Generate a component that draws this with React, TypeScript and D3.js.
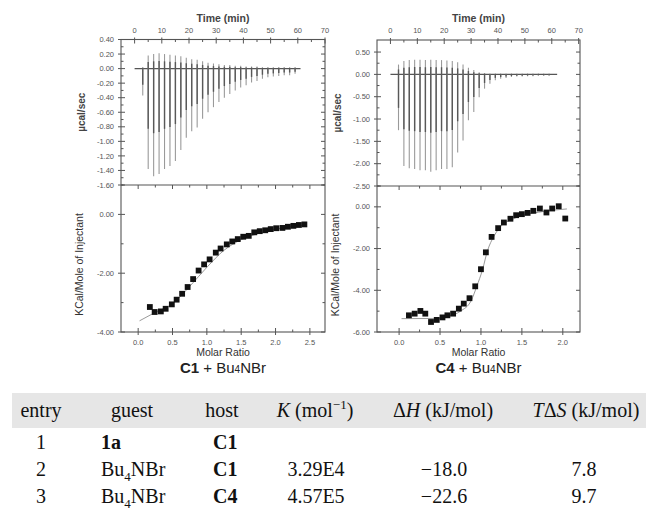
import React from 'react'
import * as d3 from 'd3'

// raw ITC trace: injection times (min)
const timeTicks = [0, 10, 20, 30, 40, 50, 60, 70]
const injectionTimes = [3, 5, 7, 9, 11, 13, 15, 17, 19, 21, 23, 25, 27, 29, 31, 33, 35, 37, 39, 41, 43, 45, 47, 49, 51, 53, 55, 57, 59]

// C1 + Bu4NBr raw peaks (ucal/sec)
const c1PeakMin = [-0.37, -1.38, -1.48, -1.45, -1.38, -1.34, -1.27, -1.12, -0.95, -0.86, -0.81, -0.69, -0.6, -0.53, -0.46, -0.4, -0.35, -0.3, -0.26, -0.23, -0.19, -0.17, -0.14, -0.12, -0.11, -0.1, -0.09, -0.09, -0.07]
const c1PeakTop = [0.02, 0.18, 0.2, 0.21, 0.2, 0.19, 0.18, 0.17, 0.15, 0.13, 0.12, 0.1, 0.08, 0.07, 0.06, 0.05, 0.05, 0.04, 0.04, 0.03, 0.03, 0.03, 0.02, 0.02, 0.02, 0.02, 0.02, 0.02, 0.02]
const c1RawTicks = [0.4, 0.2, 0, -0.2, -0.4, -0.6, -0.8, -1.0, -1.2, -1.4, -1.6]

// C4 + Bu4NBr raw peaks
const c4PeakMin = [-1.25, -2.05, -2.1, -2.12, -2.15, -2.15, -2.18, -2.15, -2.12, -2.12, -2.08, -1.75, -1.48, -1.03, -0.84, -0.51, -0.32, -0.21, -0.13, -0.1, -0.08, -0.06, -0.05, -0.05, -0.04, -0.04, -0.03, -0.03, -0.03]
const c4PeakTop = [0.22, 0.3, 0.32, 0.33, 0.33, 0.32, 0.33, 0.32, 0.32, 0.31, 0.3, 0.27, 0.22, 0.15, 0.1, 0.05, 0.03, 0.02, 0.02, 0.02, 0.02, 0.02, 0.02, 0.02, 0.02, 0.02, 0.02, 0.02, 0.02]
const c4RawTicks = [0.5, 0, -0.5, -1.0, -1.5, -2.0, -2.5]

// integrated heats (kcal/mol of injectant) vs molar ratio
const c1Ratio = [0.17, 0.24, 0.33, 0.4, 0.49, 0.56, 0.64, 0.72, 0.8, 0.88, 0.96, 1.04, 1.13, 1.2, 1.29, 1.37, 1.45, 1.53, 1.61, 1.69, 1.77, 1.85, 1.93, 2.01, 2.1, 2.18, 2.26, 2.34, 2.42]
const c1Heat = [-3.15, -3.32, -3.3, -3.21, -3.06, -2.9, -2.7, -2.47, -2.2, -1.91, -1.7, -1.53, -1.3, -1.16, -1.02, -0.92, -0.84, -0.76, -0.73, -0.61, -0.57, -0.54, -0.5, -0.47, -0.46, -0.42, -0.39, -0.36, -0.34]
const c1FitRatio = [0.02, 0.25, 0.5, 0.75, 1.0, 1.25, 1.5, 1.75, 2.0, 2.25, 2.45]
const c1FitHeat = [-3.62, -3.33, -3.04, -2.45, -1.8, -1.22, -0.86, -0.65, -0.5, -0.41, -0.36]
const c1RatioTicks = [0, 0.5, 1.0, 1.5, 2.0, 2.5]
const c1HeatTicks = [0, -2, -4]

const c4Ratio = [0.12, 0.19, 0.26, 0.32, 0.39, 0.46, 0.53, 0.59, 0.66, 0.73, 0.79, 0.86, 0.93, 1.0, 1.06, 1.13, 1.21, 1.28, 1.36, 1.43, 1.5, 1.57, 1.64, 1.72, 1.8, 1.87, 1.95, 2.03]
const c4Heat = [-5.2, -5.12, -4.99, -5.12, -5.52, -5.42, -5.3, -5.2, -5.12, -4.88, -4.64, -4.38, -3.81, -2.99, -2.18, -1.44, -1.02, -0.75, -0.57, -0.4, -0.35, -0.29, -0.19, -0.08, -0.27, -0.08, 0.03, -0.56]
const c4FitRatio = [0.03, 0.45, 0.6, 0.75, 0.88, 0.95, 1.02, 1.08, 1.16, 1.25, 1.38, 1.5, 1.7, 1.9, 2.05]
const c4FitHeat = [-5.36, -5.35, -5.25, -5.0, -4.5, -3.8, -3.0, -2.1, -1.4, -0.9, -0.6, -0.42, -0.26, -0.15, -0.1]
const c4RatioTicks = [0, 0.5, 1.0, 1.5, 2.0]
const c4HeatTicks = [0, -2, -4, -6]

// table
const tableEntries = ['1', '2', '3']
const tableGuests = ['1a', 'Bu4NBr', 'Bu4NBr']
const tableHosts = ['C1', 'C1', 'C4']
const tableK = ['', '3.29E4', '4.57E5']
const tableDH = ['', '\u221218.0', '\u221222.6']
const tableTDS = ['', '7.8', '9.7']

const fmt = d3.formatLocale({ decimal: '.', thousands: ',', grouping: [3], currency: ['', ''], minus: '-' })
const f2 = fmt.format('.2f')
const f1 = fmt.format('.1f')

const sans = '"Liberation Sans", Arial, sans-serif'
const serif = '"Liberation Serif", "Times New Roman", serif'
const axisColor = '#555'
const tickText = '#555'

const midpoints = (arr: number[]) => arr.slice(1).map((v, i) => (v + arr[i]) / 2)

function Panel(props: any) {
  const { x0, x1, yTop, yMid, yBot, timeDomain, rawDomain, rawTicks, peakMin, peakTop, baselineEnd,
    ratioDomain, ratioTicks, heatDomain, heatTicks, ratio, heat, fitRatio, fitHeat, host } = props

  const xt = d3.scaleLinear().domain(timeDomain).range([x0, x1])
  const yr = d3.scaleLinear().domain(rawDomain).range([yMid, yTop])
  const xm = d3.scaleLinear().domain(ratioDomain).range([x0, x1])
  const yh = d3.scaleLinear().domain(heatDomain).range([yBot, yMid])

  const fitLine = d3.line<number>()
    .x((d, i) => xm(fitRatio[i]))
    .y(d => yh(d))
    .curve(d3.curveMonotoneX)

  const timeMinor = midpoints(timeTicks)
  const rawMinor = midpoints(rawTicks)
  const ratioMinor = midpoints(ratioTicks)
  const heatMinor = midpoints(heatTicks).concat([heatTicks[0] + (heatTicks[0] - heatTicks[1]) / 2])
  const cx = (x0 + x1) / 2

  return (
    <g>
      {/* frames */}
      <rect x={x0} y={yTop} width={x1 - x0} height={yBot - yTop} fill='none' stroke={axisColor} strokeWidth={1.1} />
      <line x1={x0} x2={x1} y1={yMid} y2={yMid} stroke={axisColor} strokeWidth={1.1} />

      {/* top time axis */}
      {timeTicks.map(t => (
        <g key={'tt' + t}>
          <line x1={xt(t)} x2={xt(t)} y1={yTop - 2} y2={yTop + 4} stroke={axisColor} />
          <text x={xt(t)} y={33} textAnchor='middle' fontSize={7.5} fill={tickText} fontFamily={sans}>{t}</text>
        </g>
      ))}
      {timeMinor.map(t => <line key={'tm' + t} x1={xt(t)} x2={xt(t)} y1={yTop} y2={yTop + 2.5} stroke={axisColor} />)}
      <text x={cx} y={22} textAnchor='middle' fontSize={10.5} fontWeight='bold' fill='#444' fontFamily={sans}>Time (min)</text>

      {/* raw y axis */}
      {rawTicks.map(v => (
        <g key={'rt' + v}>
          <line x1={x0 - 3} x2={x0 + 4} y1={yr(v)} y2={yr(v)} stroke={axisColor} />
          <line x1={x1 - 4} x2={x1} y1={yr(v)} y2={yr(v)} stroke={axisColor} />
          <text x={x0 - 7} y={yr(v) + 2.6} textAnchor='end' fontSize={7.5} fill={tickText} fontFamily={sans}>{f2(v)}</text>
        </g>
      ))}
      {rawMinor.map(v => (
        <g key={'rm' + v}>
          <line x1={x0} x2={x0 + 2.5} y1={yr(v)} y2={yr(v)} stroke={axisColor} />
          <line x1={x1 - 2.5} x2={x1} y1={yr(v)} y2={yr(v)} stroke={axisColor} />
        </g>
      ))}
      <text transform={`translate(${x0 - 36},${(yTop + yMid) / 2}) rotate(-90)`} textAnchor='middle' fontSize={10} fontWeight='bold' fill='#444' fontFamily={sans}>µcal/sec</text>

      {/* raw trace */}
      <line x1={xt(0)} x2={xt(baselineEnd)} y1={yr(0)} y2={yr(0)} stroke='#555' strokeWidth={1.2} />
      {injectionTimes.map((t, i) => (
        <g key={'pk' + i}>
          <line x1={xt(t)} x2={xt(t)} y1={yr(peakTop[i])} y2={yr(peakMin[i])} stroke='#9a9a9a' strokeWidth={1.1} />
          <line x1={xt(t)} x2={xt(t)} y1={yr(peakTop[i] * 0.5)} y2={yr(peakMin[i] * 0.6)} stroke='#585858' strokeWidth={1.4} />
        </g>
      ))}

      {/* heat y axis */}
      {heatTicks.map(v => (
        <g key={'ht' + v}>
          <line x1={x0 - 3} x2={x0 + 4} y1={yh(v)} y2={yh(v)} stroke={axisColor} />
          <line x1={x1 - 4} x2={x1} y1={yh(v)} y2={yh(v)} stroke={axisColor} />
          <text x={x0 - 7} y={yh(v) + 2.6} textAnchor='end' fontSize={7.5} fill={tickText} fontFamily={sans}>{f2(v)}</text>
        </g>
      ))}
      {heatMinor.map(v => (
        <g key={'hm' + v}>
          <line x1={x0} x2={x0 + 2.5} y1={yh(v)} y2={yh(v)} stroke={axisColor} />
          <line x1={x1 - 2.5} x2={x1} y1={yh(v)} y2={yh(v)} stroke={axisColor} />
        </g>
      ))}
      <text transform={`translate(${x0 - 38},${(yMid + yBot) / 2 + 6}) rotate(-90)`} textAnchor='middle' fontSize={10.5} fill='#333' fontFamily={sans}>KCal/Mole of Injectant</text>

      {/* molar ratio axis */}
      {ratioTicks.map(v => (
        <g key={'mt' + v}>
          <line x1={xm(v)} x2={xm(v)} y1={yBot - 4} y2={yBot + 3} stroke={axisColor} />
          <line x1={xm(v)} x2={xm(v)} y1={yMid} y2={yMid + 4} stroke={axisColor} />
          <text x={xm(v)} y={345} textAnchor='middle' fontSize={7.5} fill={tickText} fontFamily={sans}>{f1(v)}</text>
        </g>
      ))}
      {ratioMinor.map(v => (
        <g key={'mm' + v}>
          <line x1={xm(v)} x2={xm(v)} y1={yBot - 2.5} y2={yBot} stroke={axisColor} />
          <line x1={xm(v)} x2={xm(v)} y1={yMid} y2={yMid + 2.5} stroke={axisColor} />
        </g>
      ))}
      <text x={cx} y={356} textAnchor='middle' fontSize={10.5} fill='#333' fontFamily={sans}>Molar Ratio</text>

      {/* fit and points */}
      <path d={fitLine(fitHeat) || ''} fill='none' stroke='#9a9a9a' strokeWidth={1} />
      {ratio.map((r: number, i: number) => (
        <rect key={'pt' + i} x={xm(r) - 2.9} y={yh(heat[i]) - 2.9} width={5.8} height={5.8} fill='#111' />
      ))}

      <text x={cx} y={373} textAnchor='middle' fontSize={15} fill='#222' fontFamily={sans}>
        <tspan fontWeight='bold'>{host}</tspan> + Bu<tspan fontSize={10}>4</tspan>NBr
      </text>
    </g>
  )
}

export default function App() {
  const colEntry = 41
  const colGuest = 101
  const colHost = 213
  const colK = 316
  const colDH = 444
  const colTDS = 584
  const rowY = [449, 476, 503]

  return (
    <div style={{ position: 'absolute', left: 0, top: 0 }}>
      <svg width={646} height={514} style={{ display: 'block', background: '#fff' }}>
        <Panel x0={121} x1={325} yTop={39.5} yMid={185} yBot={332}
          timeDomain={[-5, 70]} rawDomain={[-1.6, 0.4]} rawTicks={c1RawTicks}
          peakMin={c1PeakMin} peakTop={c1PeakTop} baselineEnd={61}
          ratioDomain={[-0.25, 2.72]} ratioTicks={c1RatioTicks}
          heatDomain={[-4, 1]} heatTicks={c1HeatTicks}
          ratio={c1Ratio} heat={c1Heat} fitRatio={c1FitRatio} fitHeat={c1FitHeat} host='C1' />
        <Panel x0={377} x1={580} yTop={40} yMid={186} yBot={332}
          timeDomain={[-5, 70.5]} rawDomain={[-2.5, 0.77]} rawTicks={c4RawTicks}
          peakMin={c4PeakMin} peakTop={c4PeakTop} baselineEnd={62}
          ratioDomain={[-0.27, 2.21]} ratioTicks={c4RatioTicks}
          heatDomain={[-6, 1]} heatTicks={c4HeatTicks}
          ratio={c4Ratio} heat={c4Heat} fitRatio={c4FitRatio} fitHeat={c4FitHeat} host='C4' />

        {/* table */}
        <rect x={12} y={393} width={634} height={35} fill='#e6e6e6' />
        <g fontFamily={serif} fontSize={20} fill='#111'>
          <text x={colEntry} y={417} textAnchor='middle'>entry</text>
          <text x={132} y={417} textAnchor='middle'>guest</text>
          <text x={222} y={417} textAnchor='middle'>host</text>
          <text x={315} y={417} textAnchor='middle'>
            <tspan fontStyle='italic'>K</tspan> (mol<tspan dy={-8} fontSize={13}>{'\u22121'}</tspan><tspan dy={8}>)</tspan>
          </text>
          <text x={443} y={417} textAnchor='middle'>
            Δ<tspan fontStyle='italic'>H</tspan> (kJ/mol)
          </text>
          <text x={586} y={417} textAnchor='middle'>
            <tspan fontStyle='italic'>T</tspan>Δ<tspan fontStyle='italic'>S</tspan> (kJ/mol)
          </text>

          {tableEntries.map((e, i) => (
            <g key={'row' + i}>
              <text x={colEntry} y={rowY[i]} textAnchor='middle'>{e}</text>
              {tableGuests[i] === 'Bu4NBr'
                ? <text x={colGuest} y={rowY[i]}>Bu<tspan dy={5} fontSize={13}>4</tspan><tspan dy={-5}>NBr</tspan></text>
                : <text x={colGuest} y={rowY[i]} fontWeight='bold'>{tableGuests[i]}</text>}
              <text x={colHost} y={rowY[i]} fontWeight='bold'>{tableHosts[i]}</text>
              <text x={colK} y={rowY[i]} textAnchor='middle'>{tableK[i]}</text>
              <text x={colDH} y={rowY[i]} textAnchor='middle'>{tableDH[i]}</text>
              <text x={colTDS} y={rowY[i]} textAnchor='middle'>{tableTDS[i]}</text>
            </g>
          ))}
        </g>
      </svg>
    </div>
  )
}
